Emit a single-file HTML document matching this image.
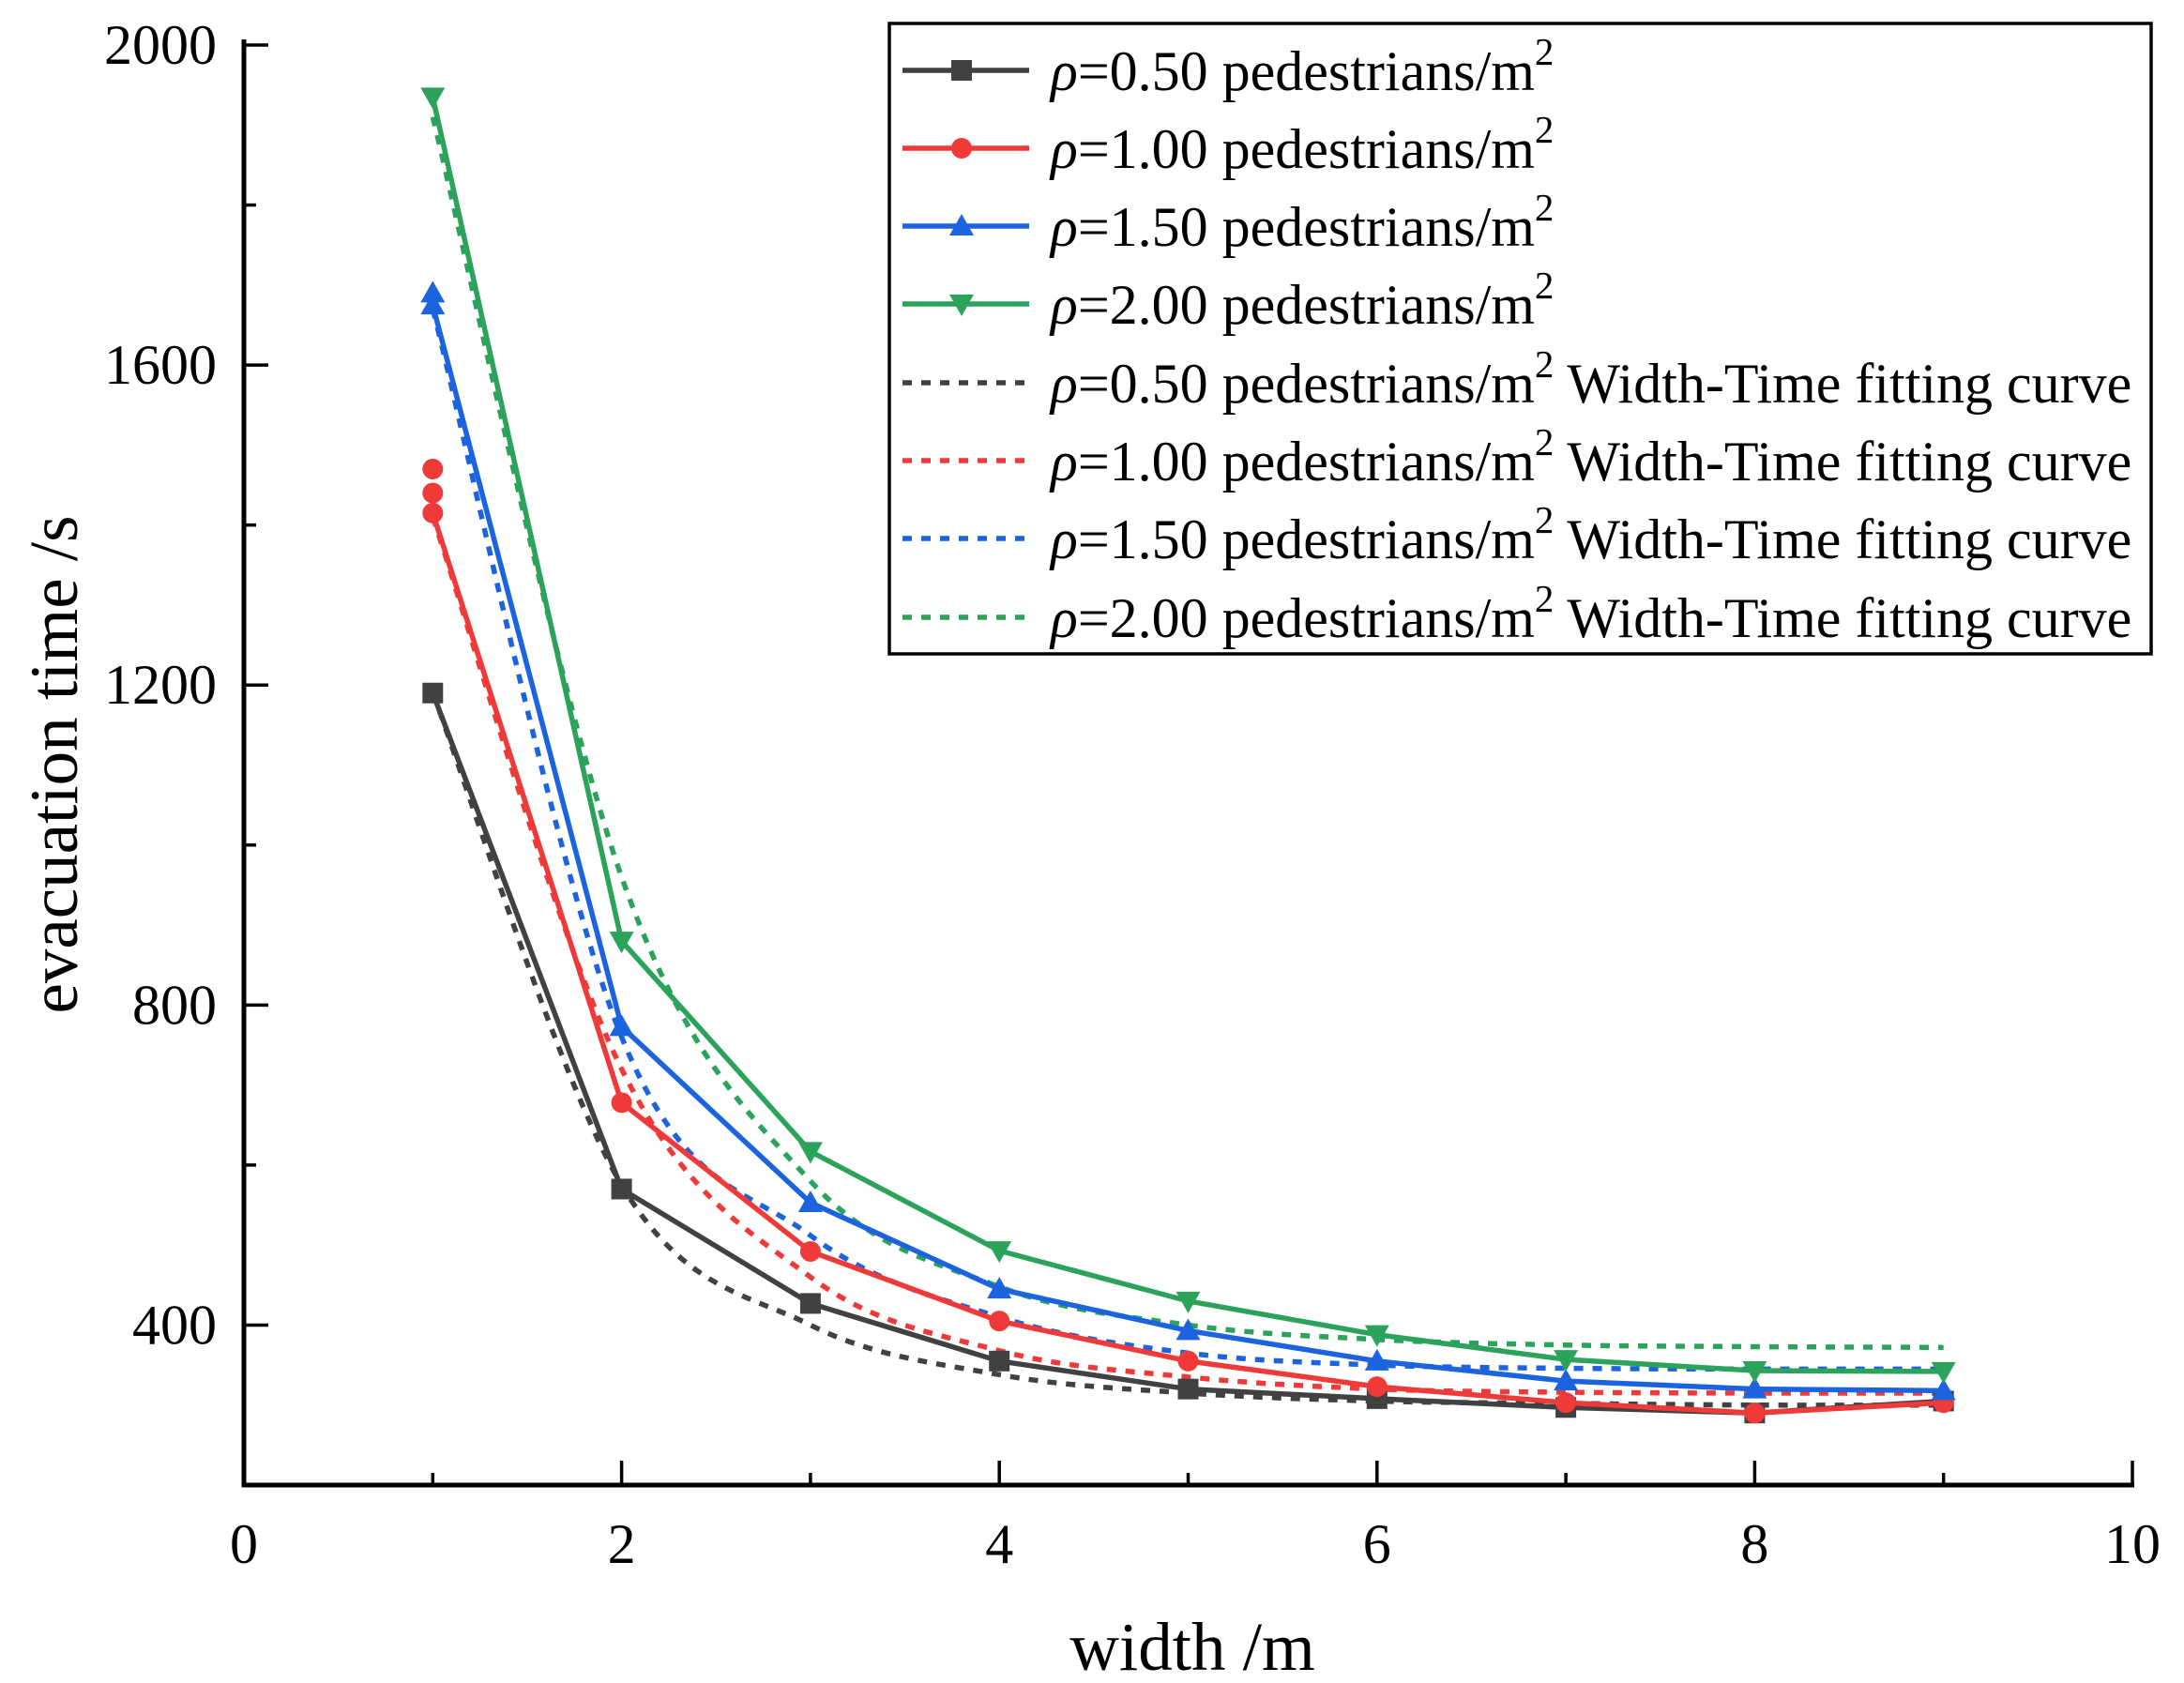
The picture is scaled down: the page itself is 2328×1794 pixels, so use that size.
<!DOCTYPE html>
<html><head><meta charset="utf-8"><style>
body{margin:0;background:#fff}
svg{display:block;font-family:"Liberation Serif",serif}
</style></head><body>
<svg id="chart" width="2328" height="1794" viewBox="0 0 2328 1794" xmlns="http://www.w3.org/2000/svg">
<g id="fits"></g>
<g id="series"></g>
<g id="axes"></g>
<g id="legend"></g>
</svg>
<script>
const widths=[1,2,3,4,5,6,7,8,9];
const s050=[1190,570,427,355,320,308,297,290,305];
const s100=[1415,678,492,405,355,323,303,290,303];
const s150=[1675,773,553,445,393,355,330,320,318];
const s200=[1935,880,617,493,430,388,357,343,342];
const extra100=[1440,1470];
const extra150=[1690];
const fit050=[1190,575,400,338,315,305,302,300,300];
const fit100=[1410,720,460,368,335,320,316,315,315];
const fit150=[1670,760,512,410,365,350,346,345,345];
const fit200=[1910,960,580,448,400,382,375,373,372];
const xTicks=[0,2,4,6,8,10];
const yTicks=[400,800,1200,1600,2000];
const labels=["0.50","1.00","1.50","2.00"];

const NS="http://www.w3.org/2000/svg";
const X0=260,X1=2273,Y0=1583,YT=48;
const xs=v=>X0+(v-0)/(10-0)*(X1-X0);
const ys=v=>Y0-(v-200)/(2000-200)*(Y0-YT);
const colors=["#414141","#f03a3a","#1c63e0","#2ca35a"];
function el(t,a,p){const e=document.createElementNS(NS,t);for(const k in a)e.setAttribute(k,a[k]);p.appendChild(e);return e;}
function marker(i,x,y,g){
  const c=colors[i],r=11;let m;
  if(i===0)m=el('rect',{x:x-r,y:y-r,width:2*r,height:2*r,fill:c},g);
  else if(i===1)m=el('circle',{cx:x,cy:y,r:r,fill:c},g);
  else if(i===2)m=el('polygon',{points:`${x},${y-r-2} ${x-r-2},${y+r-1} ${x+r+2},${y+r-1}`,fill:c},g);
  else m=el('polygon',{points:`${x},${y+r+2} ${x-r-2},${y-r+1} ${x+r+2},${y-r+1}`,fill:c},g);
  return m;
}
function smooth(pts){
  let d=`M${pts[0][0]},${pts[0][1]}`;
  for(let i=0;i<pts.length-1;i++){
    const p0=pts[Math.max(0,i-1)],p1=pts[i],p2=pts[i+1],p3=pts[Math.min(pts.length-1,i+2)];
    const c1=[p1[0]+(p2[0]-p0[0])/6,p1[1]+(p2[1]-p0[1])/6];
    const c2=[p2[0]-(p3[0]-p1[0])/6,p2[1]-(p3[1]-p1[1])/6];
    d+=` C${c1[0]},${c1[1]} ${c2[0]},${c2[1]} ${p2[0]},${p2[1]}`;
  }
  return d;
}
const fitsG=document.getElementById('fits');
[fit050,fit100,fit150,fit200].forEach((f,i)=>{
  const p=el('path',{d:smooth(widths.map((w,j)=>[xs(w),ys(f[j])])),fill:'none',stroke:colors[i],'stroke-width':5.5,'stroke-dasharray':'10 10'},fitsG);
  
  
});
const serG=document.getElementById('series');
[s050,s100,s150,s200].forEach((s,i)=>{
  const g=el('g',{},serG);
  
  
  const l=el('polyline',{points:widths.map((w,j)=>xs(w)+','+ys(s[j])).join(' '),fill:'none',stroke:colors[i],'stroke-width':5.5},g);
  
  
  widths.forEach((w,j)=>{const m=marker(i,xs(w),ys(s[j]),g);
    
    });
});
extra100.forEach(v=>{const m=marker(1,xs(1),ys(v),serG);});
extra150.forEach(v=>{const m=marker(2,xs(1),ys(v),serG);});

const ax=document.getElementById('axes');
let a=el('line',{x1:X0,y1:YT-6,x2:X0,y2:Y0+2,stroke:'#000','stroke-width':5},ax);

a=el('line',{x1:X0-2,y1:Y0,x2:X1+2,y2:Y0,stroke:'#000','stroke-width':5},ax);

for(let v=1;v<=10;v++){const x=xs(v);el('line',{x1:x,y1:Y0,x2:x,y2:Y0-(v%2?13:26),stroke:'#000','stroke-width':3.5},ax);}
for(let v=400;v<=2000;v+=200){const y=ys(v);el('line',{x1:X0,y1:y,x2:X0+(v%400?13:26),y2:y,stroke:'#000','stroke-width':3.5},ax);}
xTicks.forEach(v=>{const t=el('text',{x:xs(v),y:1666,'font-size':60,'text-anchor':'middle'},ax);t.textContent=v;
  });
yTicks.forEach(v=>{const t=el('text',{x:231,y:ys(v)+20,'font-size':60,'text-anchor':'end'},ax);t.textContent=v;
  });
let t=el('text',{x:1271,y:1780,'font-size':73,'text-anchor':'middle'},ax);t.textContent='width /m';

t=el('text',{x:0,y:0,'font-size':73,'text-anchor':'middle',transform:'translate(82,815) rotate(-90)'},ax);t.textContent='evacuation time /s';


const lg=document.getElementById('legend');
const box=el('rect',{x:948,y:25,width:1345,height:672,fill:'#fff',stroke:'#000','stroke-width':3.5},lg);

const rowY=[75,158,241,324,408,491,574,658];
for(let k=0;k<8;k++){
  const i=k%4,fit=k>=4,y=rowY[k];
  const g=el('g',{},lg);
  
  
  el('line',{x1:962,y1:y,x2:1097,y2:y,stroke:colors[i],'stroke-width':5.5,'stroke-dasharray':fit?'10 10':'none'},g);
  if(!fit)marker(i,1025,y,g);
  const tx=el('text',{x:1120,y:y+21,'font-size':60},g);
  const t1=el('tspan',{'font-style':'italic'},tx);t1.textContent='ρ';
  const t2=el('tspan',{},tx);t2.textContent='='+labels[i]+' pedestrians/m';
  const t3=el('tspan',{dy:-27,'font-size':41},tx);t3.textContent='2';
  if(fit){const t4=el('tspan',{dy:27},tx);t4.textContent=' Width-Time fitting curve';}
}
</script>
</body></html>
